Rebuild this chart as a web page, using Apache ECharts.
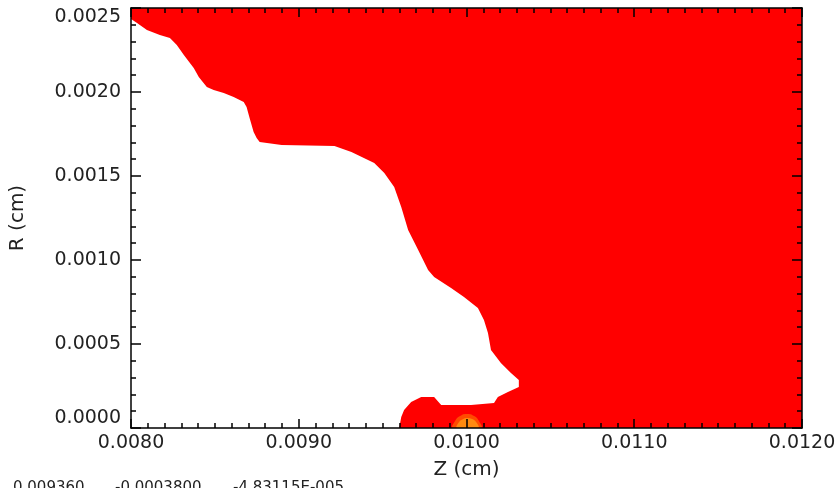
<!DOCTYPE html>
<html>
<head>
<meta charset="utf-8">
<script src="https://cdn.jsdelivr.net/npm/echarts@6/dist/echarts.min.js"></script>
<style>
  html, body { margin: 0; padding: 0; background: #fff; }
  #chart { width: 839px; height: 488px; }
</style>
</head>
<body>
<div id="chart"></div>
<script>
// Axis ranges (cm)
const zRange = [0.0080, 0.0120];
const rRange = [0.0000, 0.0025];

// Cavity boundary (Z, R) in cm, traced from the top-left edge down to the axis
const cavityZ = [0.008000, 0.008036, 0.008095, 0.008172, 0.008232, 0.008273, 0.008315, 0.008374,
  0.008404, 0.008452, 0.008493, 0.008553, 0.008612, 0.008672, 0.008689, 0.008707, 0.008731,
  0.008749, 0.008767, 0.008898, 0.009213, 0.009314, 0.009450, 0.009510, 0.009569, 0.009611,
  0.009652, 0.009712, 0.009771, 0.009807, 0.009908, 0.009985, 0.010068, 0.010104, 0.010128,
  0.010146, 0.010205, 0.010265, 0.010312, 0.010312, 0.010247, 0.010187, 0.010164, 0.010027,
  0.009849, 0.009807, 0.009730, 0.009670, 0.009628, 0.009611, 0.009599, 0.008000];
const cavityR = [0.002434, 0.002411, 0.002369, 0.002339, 0.002321, 0.002280, 0.002220, 0.002143,
  0.002089, 0.002030, 0.002012, 0.001994, 0.001970, 0.001940, 0.001911, 0.001845, 0.001762,
  0.001726, 0.001702, 0.001685, 0.001679, 0.001643, 0.001577, 0.001518, 0.001435, 0.001315,
  0.001179, 0.001060, 0.000940, 0.000899, 0.000833, 0.000780, 0.000714, 0.000643, 0.000565,
  0.000464, 0.000387, 0.000327, 0.000286, 0.000244, 0.000214, 0.000185, 0.000149, 0.000137,
  0.000137, 0.000185, 0.000185, 0.000155, 0.000107, 0.000065, 0.000000, 0.000000];

// Hot spot on the axis near Z = 0.0100 cm: outer and inner contour levels
const hotOuterZ = [0.009920, 0.009932, 0.009962, 0.010003, 0.010045, 0.010074, 0.010086];
const hotOuterR = [0.0000000, 0.0000417, 0.0000714, 0.0000833, 0.0000714, 0.0000417, 0.0000000];
const hotInnerZ = [0.009944, 0.009956, 0.009980, 0.010003, 0.010033, 0.010057, 0.010069];
const hotInnerR = [0.0000000, 0.0000357, 0.0000536, 0.0000595, 0.0000536, 0.0000357, 0.0000000];

// Probe readout line under the plot
const readout = ['0.009360', '-0.0003800', '-4.83115E-005'];

const fieldColor = '#ff0000';
const cavityColor = '#ffffff';
const hotOuterColor = '#ff4a00';
const hotInnerColor = '#ff8a10';

function zip(xs, ys) { return xs.map((x, i) => [x, ys[i]]); }

function polygonSeries(points, color, z, smooth) {
  return {
    type: 'custom',
    coordinateSystem: 'cartesian2d',
    xAxisIndex: 0,
    yAxisIndex: 0,
    z: z,
    silent: true,
    clip: true,
    data: [points[0]],
    renderItem: function (params, api) {
      return {
        type: 'polygon',
        shape: { points: points.map(p => api.coord(p)), smooth: smooth || 0 },
        style: { fill: color, stroke: null }
      };
    }
  };
}

const fieldPoly = zip([zRange[0], zRange[1], zRange[1], zRange[0]], [rRange[0], rRange[0], rRange[1], rRange[1]]);

const font = 'DejaVu Sans';
const labelColor = '#222';
const lineStyle = { color: '#000', width: 1.5 };

function xAxis(pos, showLabels) {
  return {
    type: 'value', position: pos, min: zRange[0], max: zRange[1], interval: 0.001,
    z: 10,
    name: showLabels ? 'Z (cm)' : '', nameLocation: 'middle', nameGap: 32,
    nameTextStyle: { fontFamily: font, fontSize: 20, color: labelColor, verticalAlign: 'top' },
    axisLine: { show: true, onZero: false, lineStyle: lineStyle },
    axisTick: { show: true, inside: true, length: 9, lineStyle: { color: '#000', width: 1.5 } },
    minorTick: { show: true, splitNumber: 10, length: 5, lineStyle: { color: '#000', width: 1.5 } },
    axisLabel: { show: showLabels, margin: 6, fontFamily: font, fontSize: 19, color: labelColor,
      formatter: v => v.toFixed(4) },
    splitLine: { show: false }
  };
}

function yAxis(pos, showLabels) {
  return {
    type: 'value', position: pos, min: rRange[0], max: rRange[1], interval: 0.0005,
    z: 10,
    name: showLabels ? 'R (cm)' : '', nameLocation: 'middle', nameGap: 103, nameRotate: 90,
    nameTextStyle: { fontFamily: font, fontSize: 20, color: labelColor },
    axisLine: { show: true, onZero: false, lineStyle: lineStyle },
    axisTick: { show: true, inside: true, length: 10, lineStyle: { color: '#000', width: 1.5 } },
    minorTick: { show: true, splitNumber: 5, length: 5, lineStyle: { color: '#000', width: 1.5 } },
    axisLabel: { show: showLabels, margin: 10, fontFamily: font, fontSize: 19, color: labelColor,
      verticalAlign: 'middle', verticalAlignMinLabel: 'bottom', verticalAlignMaxLabel: 'top',
      formatter: v => v.toFixed(4) },
    splitLine: { show: false }
  };
}

const chart = echarts.init(document.getElementById('chart'), null, { renderer: 'canvas' });
chart.setOption({
  animation: false,
  backgroundColor: '#fff',
  grid: { left: 129, top: 8, width: 673, height: 420, containLabel: false },
  xAxis: [xAxis('bottom', true), xAxis('top', false)],
  yAxis: [yAxis('left', true), yAxis('right', false)],
  graphic: readout.map((t, i) => ({
    type: 'text', left: [13, 115, 233][i], top: 481, z: 20,
    style: { text: t, fontFamily: font, fontSize: 15, fill: labelColor }
  })),
  series: [
    polygonSeries(fieldPoly, fieldColor, 1, 0),
    polygonSeries(zip(cavityZ, cavityR), cavityColor, 2, 0),
    polygonSeries(zip(hotOuterZ, hotOuterR), hotOuterColor, 3, 0.5),
    polygonSeries(zip(hotInnerZ, hotInnerR), hotInnerColor, 4, 0.5)
  ]
});
</script>
</body>
</html>
